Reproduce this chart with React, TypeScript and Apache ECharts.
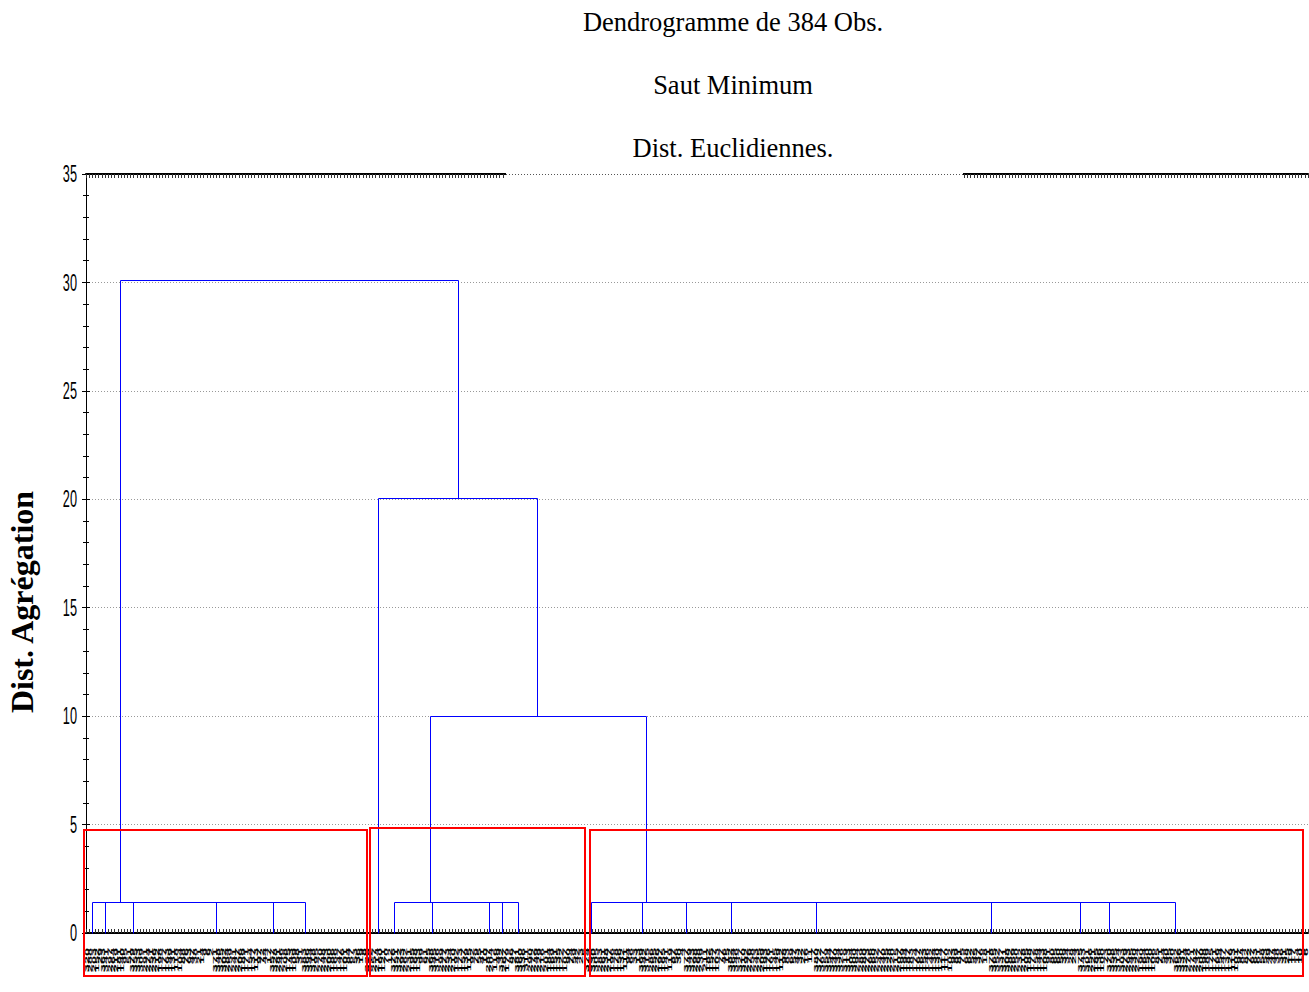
import React, { useEffect, useRef } from "react";
import * as echarts from "echarts";

// Chart titles
const titleLines = ["Dendrogramme de 384 Obs.", "Saut Minimum", "Dist. Euclidiennes."];
const yAxisTitle = "Dist. Agrégation";

// Y axis ticks (aggregation distance)
const yTicks = [0, 5, 10, 15, 20, 25, 30, 35];

// Leaf order (observation numbers), left to right, grouped by sub-cluster
const leafLabels: number[] = [
  // cluster 1
  320, 288, 203, 152, 29,
  363, 341, 297, 264, 219, 181, 140, 95, 51,
  379, 355, 333, 309, 291, 274, 251, 236, 212, 198, 177, 163, 149, 131, 118, 104, 88, 76, 63, 47, 38, 21, 14, 9, 6, 2,
  371, 348, 325, 302, 284, 259, 241, 227, 206, 189, 171, 154, 137, 113, 97, 72, 44, 17,
  357, 328, 281, 246, 208, 175, 143, 109, 58, 31,
  383, 366, 344, 318, 295, 270, 248, 223, 200, 186, 166, 147, 126, 101, 84, 67, 53, 36, 19, 8,
  // cluster 2
  338, 312, 257, 214, 160, 121, 70, 12,
  376, 351, 322, 293, 262, 231, 195, 168, 133, 99, 61, 25,
  368, 345, 316, 299, 277, 253, 234, 210, 192, 173, 157, 139, 115, 92, 79, 55, 41, 10,
  287, 204, 116, 49,
  332, 267, 179, 86, 27,
  381, 360, 336, 311, 290, 272, 249, 229, 216, 201, 184, 169, 151, 135, 122, 107, 90, 74, 59, 42, 23, 5,
  // cluster 3
  374, 353, 330, 305, 283, 261, 238, 217, 196, 178, 156, 132, 111, 94, 66, 33, 13,
  369, 342, 315, 286, 255, 226, 197, 165, 141, 119, 87, 56, 30, 4,
  377, 349, 323, 298, 268, 239, 211, 182, 155, 127, 103, 77, 46, 15,
  382, 364, 346, 327, 310, 292, 276, 258, 243, 225, 209, 193, 176, 161, 145, 129, 112, 98, 83, 69, 57, 43, 32, 22, 16, 11, 7,
  380, 372, 367, 359, 354, 347, 340, 334, 326, 319, 313, 304, 300, 294, 289, 280, 273, 266, 260, 252,
  247, 240, 235, 228, 220, 215, 207, 199, 194, 187, 183, 174, 167, 162, 153, 146, 142, 134, 130, 124,
  117, 110, 102, 93, 89, 81, 75, 68, 62, 52, 45, 37, 26, 18, 1,
  378, 365, 352, 337, 321, 308, 282, 269, 250, 232, 218, 205, 188, 172, 158, 144, 123, 108, 91, 80, 65, 60, 50, 39, 34, 28, 24, 3,
  375, 343, 301, 256, 221, 185, 136, 100, 73,
  370, 358, 335, 314, 303, 279, 263, 245, 230, 224, 190, 164, 150, 120, 106, 85, 71, 54, 40, 35, 20,
  362, 356, 331, 324, 278, 271, 242, 237, 200, 198, 189, 175, 171, 166, 154, 147, 137, 126, 113, 101,
  97, 84, 82, 72, 67, 63, 61, 58, 53, 49, 47, 44, 38, 36, 31, 25, 19, 17, 14, 10, 8, 6,
];

// Lowest merge level shared by the three main groups
const lowMergeHeight = 1.4;

// Leaf-axis positions of the sub-cluster stems and of each group's link to the level above
const group1Stems = [2.0, 6.1, 15.0, 41.0, 59.0, 68.9];
const group1Link = 10.9;
const group2Stems = [97.0, 108.8, 126.7, 130.8, 135.9];
const group2Link = 108.2;
const group3Stems = [158.9, 174.8, 188.8, 202.7, 229.6, 284.6, 312.6, 321.6, 342.5];
const group3Link = 176.0;
const isolatedLeaf = 91.8;

// Upper merges: [left position, left base height, right position, right base height, merge height]
const upperMerges: [number, number, number, number, number][] = [
  [group2Link, lowMergeHeight, group3Link, lowMergeHeight, 10.0],
  [isolatedLeaf, 0, 142.0, 10.0, 20.05],
  [group1Link, lowMergeHeight, 116.9, 20.05, 30.1],
];

function groupSegments(stems: number[], link: number, h: number): number[][] {
  const segs: number[][] = stems.map((s) => [s, 0, s, h]);
  segs.push([Math.min(...stems, link), h, Math.max(...stems, link), h]);
  return segs;
}

function buildSegments(): number[][] {
  const segs: number[][] = [
    ...groupSegments(group1Stems, group1Link, lowMergeHeight),
    ...groupSegments(group2Stems, group2Link, lowMergeHeight),
    ...groupSegments(group3Stems, group3Link, lowMergeHeight),
  ];
  for (const [l, lh, r, rh, h] of upperMerges) {
    segs.push([l, lh, l, h]);
    segs.push([r, rh, r, h]);
    segs.push([l, h, r, h]);
  }
  return segs;
}

const crisp = (v: number) => Math.round(v - 0.5) + 0.5;

export default function App() {
  const ref = useRef<HTMLDivElement>(null);

  useEffect(() => {
    if (!ref.current) return;
    const chart = echarts.init(ref.current, undefined, { renderer: "svg" });
    const nLeaves = leafLabels.length;

    const valueXAxis = (position: "bottom" | "top") => ({
      type: "value",
      position,
      min: 0,
      max: nLeaves,
      interval: 1,
      axisLine: { show: true, onZero: false, lineStyle: { color: "#000", width: 2 } },
      axisTick: { show: true, inside: true, length: 4, lineStyle: { color: "#333", width: 1 } },
      axisLabel: { show: false },
      splitLine: { show: false },
    });

    const valueYAxis = (position: "left" | "right", grid: boolean) => ({
      type: "value",
      position,
      min: 0,
      max: 35,
      interval: 5,
      axisLine: { show: true, lineStyle: { color: "#000", width: 1 } },
      axisTick: { show: true, inside: true, length: 4, lineStyle: { color: "#000" } },
      minorTick: { show: true, splitNumber: 5, length: 3, lineStyle: { color: "#000" } },
      axisLabel: { show: false },
      splitLine: grid ? { show: true, lineStyle: { color: "#999", type: [1, 2], width: 1 } } : { show: false },
    });

    const option: any = {
      animation: false,
      backgroundColor: "#fff",
      grid: { left: 86, top: 174, width: 1222, height: 759, containLabel: false },
      xAxis: [valueXAxis("bottom"), valueXAxis("top")],
      yAxis: [valueYAxis("left", true), valueYAxis("right", false)],
      series: [
        {
          type: "custom",
          name: "links",
          xAxisIndex: 0,
          yAxisIndex: 0,
          z: 10,
          dimensions: ["x1", "y1", "x2", "y2"],
          encode: { x: [0, 2], y: [1, 3] },
          data: buildSegments(),
          renderItem: (_params: any, api: any) => {
            const p1 = api.coord([api.value(0), api.value(1)]);
            const p2 = api.coord([api.value(2), api.value(3)]);
            return {
              type: "line",
              shape: { x1: crisp(p1[0]), y1: crisp(p1[1]), x2: crisp(p2[0]), y2: crisp(p2[1]) },
              style: { stroke: "#0000ff", lineWidth: 1 },
            };
          },
        },
        {
          type: "custom",
          name: "leaves",
          xAxisIndex: 0,
          yAxisIndex: 0,
          z: 5,
          encode: { x: 0, y: 1 },
          data: leafLabels.map((_, i) => [i + 0.5, 0]),
          renderItem: (params: any, api: any) => {
            const p = api.coord([api.value(0), 0]);
            // leaf label reads bottom-to-top, its last character next to the axis
            return {
              type: "group",
              x: p[0],
              y: p[1] + 15,
              rotation: Math.PI / 2,
              children: [
                {
                  type: "text",
                  x: 0,
                  y: 0,
                  scaleX: 1.45,
                  scaleY: 0.45,
                  style: {
                    text: String(leafLabels[params.dataIndex]),
                    fontSize: 10,
                    fontWeight: "bold",
                    fontFamily: '"Liberation Sans", Arial, sans-serif',
                    fill: "#000",
                    align: "right",
                    verticalAlign: "middle",
                  },
                },
              ],
            };
          },
        },
        {
          type: "custom",
          name: "yTickLabels",
          xAxisIndex: 0,
          yAxisIndex: 0,
          z: 5,
          encode: { x: 0, y: 1 },
          data: yTicks.map((v) => [0, v]),
          renderItem: (params: any, api: any) => {
            const p = api.coord([0, api.value(1)]);
            return {
              type: "text",
              x: p[0] - 9,
              y: p[1],
              scaleX: 0.53,
              scaleY: 1,
              style: {
                text: String(yTicks[params.dataIndex]),
                fontSize: 24,
                fontFamily: '"Liberation Sans", Arial, sans-serif',
                fill: "#000",
                align: "right",
                verticalAlign: "middle",
              },
            };
          },
        },
      ],
      graphic: [
        // title block sits over the top frame
        { type: "rect", z: 100, shape: { x: 506, y: 168, width: 457, height: 10 }, style: { fill: "#fff" } },
        {
          type: "line",
          z: 101,
          shape: { x1: 506, y1: 174.5, x2: 963, y2: 174.5 },
          style: { stroke: "#555", lineWidth: 1, lineDash: [1, 2] },
        },
        ...titleLines.map((t, i) => ({
          type: "text",
          z: 102,
          x: 733,
          y: 22 + i * 63,
          style: {
            text: t,
            font: '26.5px "Liberation Serif", "Times New Roman", serif',
            fill: "#000",
            align: "center",
            verticalAlign: "middle",
          },
        })),
        {
          type: "text",
          z: 102,
          x: 22,
          y: 602,
          rotation: Math.PI / 2,
          style: {
            text: yAxisTitle,
            font: 'bold 32px "Liberation Serif", "Times New Roman", serif',
            fill: "#000",
            align: "center",
            verticalAlign: "middle",
          },
        },
        // highlighted groups
        { type: "rect", z: 200, shape: { x: 84, y: 830, width: 283, height: 146 }, style: { fill: "none", stroke: "#ff0000", lineWidth: 2 } },
        { type: "rect", z: 200, shape: { x: 370, y: 828, width: 215, height: 148 }, style: { fill: "none", stroke: "#ff0000", lineWidth: 2 } },
        { type: "rect", z: 200, shape: { x: 590, y: 830, width: 713, height: 146 }, style: { fill: "none", stroke: "#ff0000", lineWidth: 2 } },
      ],
    };

    chart.setOption(option);
    return () => chart.dispose();
  }, []);

  return (
    <div
      ref={ref}
      style={{ position: "fixed", left: 0, top: 0, width: 1309, height: 992, background: "#fff" }}
    />
  );
}
